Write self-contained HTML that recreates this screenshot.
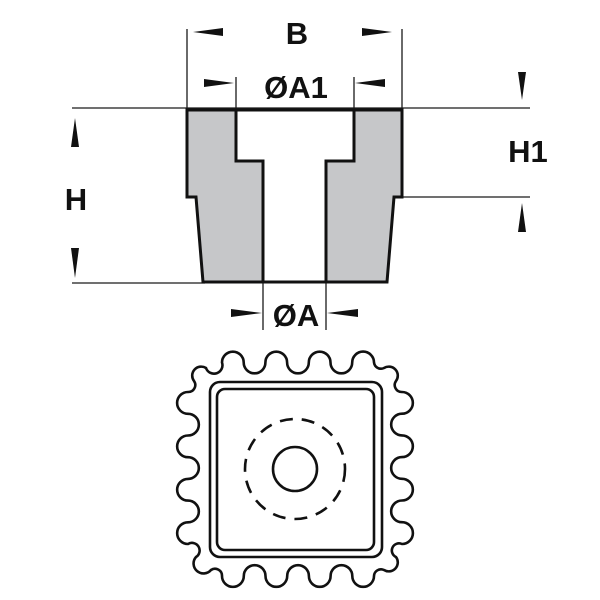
<!DOCTYPE html>
<html><head><style>html,body{margin:0;padding:0;background:#fff}svg{display:block}</style></head>
<body>
<svg width="600" height="600" viewBox="0 0 600 600" xmlns="http://www.w3.org/2000/svg">
<g stroke="#1a1a1a" stroke-width="1.3" fill="none">
<line x1="72" y1="108" x2="530" y2="108"/>
<line x1="72" y1="283" x2="205" y2="283"/>
<line x1="402" y1="197" x2="530" y2="197"/>
<line x1="187" y1="29" x2="187" y2="110"/>
<line x1="402" y1="29" x2="402" y2="110"/>
<line x1="236" y1="77" x2="236" y2="110"/>
<line x1="354" y1="77" x2="354" y2="110"/>
<line x1="263" y1="282" x2="263" y2="330"/>
<line x1="326" y1="282" x2="326" y2="330"/>
</g>
<g fill="#111">
<polygon points="193,32 223,28 223,36"/>
<polygon points="392,32 362,28 362,36"/>
<polygon points="234,83 204,79 204,87"/>
<polygon points="355,83 385,79 385,87"/>
<polygon points="262,313 231,309 231,317"/>
<polygon points="327,313 358,309 358,317"/>
<polygon points="75,118 71,147 79,147"/>
<polygon points="75,278 71,248 79,248"/>
<polygon points="522,100 518,72 526,72"/>
<polygon points="522,203 518,232 526,232"/>
</g>
<path d="M187,110 L402,110 L402,197 L394,197 L387,282 L203,282 L196,197 L187,197 Z" fill="#c6c7c9" stroke="#111" stroke-width="3" stroke-linejoin="miter"/>
<path d="M236,110 L354,110 L354,161 L326,161 L326,282 L263,282 L263,161 L236,161 Z" fill="#fff" stroke="#111" stroke-width="3"/>
<g font-family="Liberation Sans, sans-serif" font-weight="bold" font-size="31" fill="#111" text-anchor="middle">
<text x="297" y="44">B</text>
<text x="296" y="98">ØA1</text>
<text x="76" y="210">H</text>
<text x="528" y="162">H1</text>
<text x="296" y="326">ØA</text>
</g>
<g fill="none" stroke="#111" stroke-width="2.6">
<path d="M222,362.5 A10.85 10.85 0 0 1 243.7,362.5 A10.85 10.85 0 0 0 265.4,362.5 A10.85 10.85 0 0 1 287.1,362.5 A10.85 10.85 0 0 0 308.8,362.5 A10.85 10.85 0 0 1 330.5,362.5 A10.85 10.85 0 0 0 352.2,362.5 A10.85 10.85 0 0 1 374,362.5
A7 7 0 0 0 384,368 A9 9 0 0 1 396,381 A7 7 0 0 0 402,392
A10.85 10.85 0 0 1 402,413.7 A10.85 10.85 0 0 0 402,435.4 A10.85 10.85 0 0 1 402,457.1 A10.85 10.85 0 0 0 402,478.8 A10.85 10.85 0 0 1 402,500.5 A10.85 10.85 0 0 0 402,522.2 A10.85 10.85 0 0 1 402,544
A7 7 0 0 0 396,557 A9 9 0 0 1 384,570 A7 7 0 0 0 374,576
A10.85 10.85 0 0 1 352.3,576 A10.85 10.85 0 0 0 330.6,576 A10.85 10.85 0 0 1 308.9,576 A10.85 10.85 0 0 0 287.2,576 A10.85 10.85 0 0 1 265.5,576 A10.85 10.85 0 0 0 243.8,576 A10.85 10.85 0 0 1 222,576
A7 7 0 0 0 211,570 A9 9 0 0 1 196,557 A7 7 0 0 0 188,544
A10.85 10.85 0 0 1 188,522.3 A10.85 10.85 0 0 0 188,500.6 A10.85 10.85 0 0 1 188,478.9 A10.85 10.85 0 0 0 188,457.2 A10.85 10.85 0 0 1 188,435.5 A10.85 10.85 0 0 0 188,413.8 A10.85 10.85 0 0 1 188,392
A7 7 0 0 0 194,381 A9 9 0 0 1 206,368 A7 7 0 0 0 222,362.5 Z"/>
<rect x="210" y="382" width="172" height="175" rx="10"/>
<rect x="217" y="389" width="157" height="161" rx="8"/>
<circle cx="295" cy="469" r="22"/>
<circle cx="295" cy="469" r="50" stroke-dasharray="13 9"/>
</g>
</svg>
</body></html>
